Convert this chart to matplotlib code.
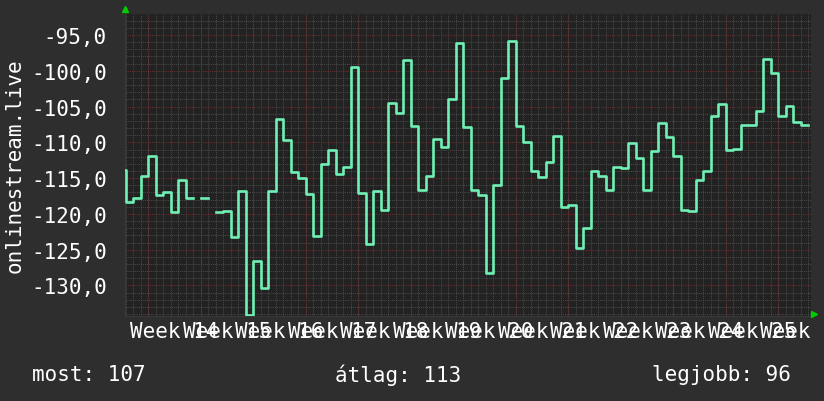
import numpy as np
import matplotlib
matplotlib.use('Agg')
import matplotlib.pyplot as plt
from matplotlib.ticker import MultipleLocator, FixedLocator

# napi értékek (nap -1-től 90-ig), hiányzó napok: nan
values = [
    -113.8,
    -118.3, -117.8, -114.7, -111.9, -117.3, -116.9, -119.8, -115.3, -117.8, np.nan,
    -117.8, np.nan, -119.7, -119.6, -123.2, -116.8, -134.1, -126.6, -130.4, -116.8,
    -106.8, -109.7, -114.2, -115.0, -117.2, -123.1, -113.0, -111.1, -114.4, -113.4,
    -99.5, -117.1, -124.2, -116.8, -119.5, -104.5, -105.9, -98.5, -107.7, -116.6,
    -114.7, -109.6, -110.7, -103.9, -96.1, -107.8, -116.7, -117.3, -128.3, -116.0,
    -101.0, -95.9, -107.7, -109.9, -114.0, -114.8, -112.7, -109.1, -119.0, -118.8,
    -124.8, -122.0, -114.0, -114.7, -116.6, -113.4, -113.6, -110.1, -112.2, -116.6,
    -111.2, -107.3, -109.2, -111.9, -119.4, -119.6, -115.3, -114.0, -106.3, -104.7,
    -111.1, -110.9, -107.6, -107.6, -105.6, -98.4, -100.3, -106.3, -104.9, -107.2,
    -107.6,
]
days = np.arange(-1, len(values) - 1)

week_labels = ['Week %d' % w for w in range(14, 27)]
week_start = 3      # első hétfő (napban)
y_ticks = [-95, -100, -105, -110, -115, -120, -125, -130]
stat_texts = ['most: 107', 'átlag: 113', 'legjobb: 96']
ylabel = 'onlinestream.live'

bg = '#2e2e2e'
plot_bg = '#222222'
line_c = '#6ff0b4'
minor_c = '#4a4a4a'
major_c = '#6a2e2e'
fs = 15

plt.rcParams['font.family'] = ['DejaVu Sans Mono', 'DejaVu Sans']

fig = plt.figure(figsize=(8.24, 4.02), dpi=100, facecolor=bg)
ax = fig.add_axes([125 / 824, 1 - 316.5 / 402, 685.5 / 824, 301.5 / 402])
ax.set_facecolor(plot_bg)

x = np.append(days, days[-1] + 1)
y = np.append(values, values[-1])
ax.step(x, y, where='post', color=line_c, lw=1.9, zorder=3)

ax.set_xlim(-0.1, 91.3)
ax.set_ylim(-134.2, -92.06)

# rács
ax.xaxis.set_minor_locator(MultipleLocator(1))
ax.yaxis.set_minor_locator(MultipleLocator(1))
ax.yaxis.set_major_locator(FixedLocator(y_ticks))
week_lines = np.arange(week_start, 92, 7)
ax.grid(True, which='minor', color=minor_c, ls=(0, (1, 1)), lw=0.7, zorder=1)
ax.yaxis.grid(True, which='major', color=major_c, ls=(0, (1, 1)), lw=0.8, zorder=2)
for wl in week_lines:
    ax.axvline(wl, color=major_c, ls=(0, (1, 1)), lw=0.8, zorder=2)
ax.xaxis.grid(False, which='major')

label_pos = week_start + 3.5 + 7 * np.arange(len(week_labels))
ax.set_xticks(label_pos)
ax.set_xticklabels(week_labels, fontsize=fs, color='white')
ax.set_yticks(y_ticks)
ax.set_yticklabels(['%.1f' % v for v in y_ticks], fontsize=fs, color='white')
ax.yaxis.set_major_formatter(plt.FuncFormatter(lambda v, p: ('%.1f' % v).replace('.', ',')))

ax.tick_params(axis='x', which='major', length=0, pad=4)
ax.tick_params(axis='y', which='major', length=0, pad=13)
ax.tick_params(which='minor', length=0)

for s in ax.spines.values():
    s.set_visible(False)
ax.spines['bottom'].set_visible(True)
ax.spines['bottom'].set_color('#3a3a3a')
ax.spines['left'].set_visible(True)
ax.spines['left'].set_color('#3a3a3a')

fig.text(15 / 824, 1 - 166 / 402, ylabel, fontsize=fs, color='white',
         rotation=90, ha='center', va='center')

# nyilak
fig.lines.append(plt.Line2D([125 / 824], [1 - 10 / 402], marker='^', ms=5,
                            color='#00cc00', transform=fig.transFigure))
fig.lines.append(plt.Line2D([814 / 824], [1 - 315 / 402], marker='>', ms=5,
                            color='#00cc00', transform=fig.transFigure))

fig.text(32 / 824, 1 - 375 / 402, stat_texts[0], fontsize=fs, color='white',
         ha='left', va='center')
fig.text(398 / 824, 1 - 375 / 402, stat_texts[1], fontsize=fs, color='white',
         ha='center', va='center')
fig.text(791 / 824, 1 - 375 / 402, stat_texts[2], fontsize=fs, color='white',
         ha='right', va='center')

fig.savefig('out.png', dpi=100, facecolor=bg)
